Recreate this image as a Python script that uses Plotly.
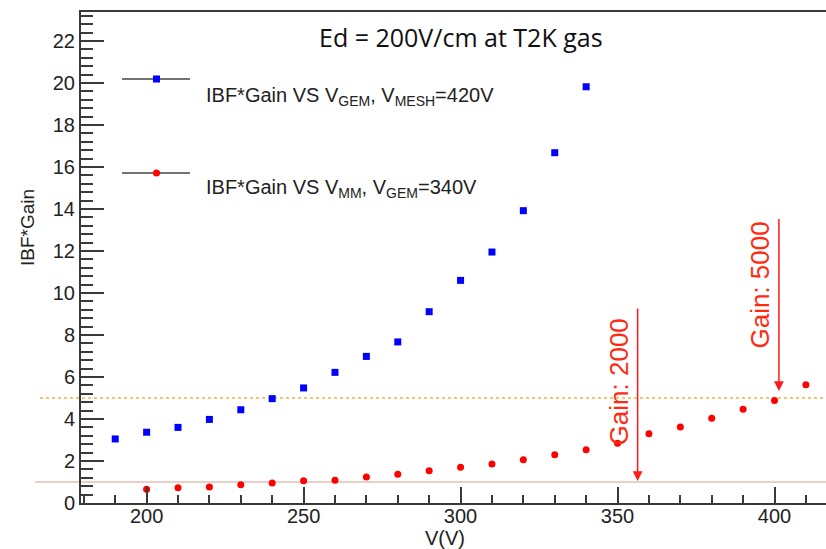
import plotly.graph_objects as go

# ---------------- data ----------------
v_gem = [190, 200, 210, 220, 230, 240, 250, 260, 270, 280, 290, 300, 310, 320, 330, 340]
ibf_gem = [3.05, 3.37, 3.60, 3.98, 4.44, 4.97, 5.48, 6.22, 6.98, 7.67, 9.11, 10.60, 11.95, 13.92, 16.68, 19.82]

v_mm = [200, 210, 220, 230, 240, 250, 260, 270, 280, 290, 300, 310, 320, 330, 340,
        350, 360, 370, 380, 390, 400, 410]
ibf_mm = [0.65, 0.73, 0.76, 0.87, 0.95, 1.06, 1.08, 1.24, 1.37, 1.54, 1.70, 1.86, 2.06, 2.30, 2.54,
          2.84, 3.30, 3.62, 4.03, 4.46, 4.88, 5.63]

ref_levels = [5.0, 1.0]             # dotted (gain 5000) / solid (gain 2000) reference levels
gain_labels = ["Gain: 2000", "Gain: 5000"]
gain_arrow_x = [356.4, 401.4]
gain_arrow_from = [9.33, 13.6]
gain_arrow_to = [1.05, 5.33]
gain_text_x = [350.4, 395.4]
gain_text_y = [5.78, 10.36]

title_text = "Ed = 200V/cm at T2K gas"
legend_texts = ["IBF*Gain VS V<sub>GEM</sub>, V<sub>MESH</sub>=420V",
                "IBF*Gain VS V<sub>MM</sub>, V<sub>GEM</sub>=340V"]
x_title = "V(V)"
y_title = "IBF*Gain"

# ---------------- geometry ----------------
W, H = 826, 549
L, R, T, B = 81, 0, 12, 46
PW, PH = W - L - R, H - T - B


def px(xp):
    return (xp - L) / PW


def py(yp):
    return (H - B - yp) / PH


AX = "#3a3a3a"
FONT = "Arial, Liberation Sans, sans-serif"

fig = go.Figure()
fig.add_trace(go.Scatter(x=v_gem, y=ibf_gem, mode="markers",
                         marker=dict(symbol="square", size=7, color="#0000FF"),
                         showlegend=False))
fig.add_trace(go.Scatter(x=v_mm, y=ibf_mm, mode="markers",
                         marker=dict(symbol="circle", size=7, color="#FF0000"),
                         showlegend=False))

shapes = []
# reference lines extending beyond the frame on the left
shapes.append(dict(type="line", xref="paper", yref="y", x0=px(40), x1=1.0,
                   y0=ref_levels[0], y1=ref_levels[0],
                   line=dict(color="#E6B84A", width=1.6, dash="dot"), layer="below"))
shapes.append(dict(type="line", xref="paper", yref="y", x0=px(35), x1=1.0,
                   y0=ref_levels[1], y1=ref_levels[1],
                   line=dict(color="#EBCFC6", width=2), layer="below"))

# legend symbols
leg_y = [79, 173]
for i, yy in enumerate(leg_y):
    shapes.append(dict(type="line", xref="paper", yref="paper", x0=px(122), x1=px(190),
                       y0=py(yy), y1=py(yy), line=dict(color="#444444", width=1.5)))
shapes.append(dict(type="rect", xref="paper", yref="paper",
                   x0=px(153), x1=px(160), y0=py(75.5), y1=py(82.5),
                   fillcolor="#0000FF", line=dict(width=0)))
shapes.append(dict(type="circle", xref="paper", yref="paper",
                   x0=px(153), x1=px(160), y0=py(169.5), y1=py(176.5),
                   fillcolor="#FF0000", line=dict(width=0)))

C = dict(xanchor="center", yanchor="middle", showarrow=False)
annotations = []
annotations.append(dict(text=title_text, xref="paper", yref="paper", x=px(461), y=py(37),
                        font=dict(family="Open Sans", size=25, color="#111111"), **C))
for txt, yy in zip(legend_texts, [97, 189]):
    annotations.append(dict(text=txt, xref="paper", yref="paper", x=px(204), y=py(yy),
                            xanchor="left", yanchor="middle", showarrow=False,
                            font=dict(family=FONT, size=20, color="#222222")))
annotations.append(dict(text=y_title, xref="paper", yref="paper", x=px(27), y=py(228),
                        textangle=-90, font=dict(family=FONT, size=19, color="#222222"), **C))
annotations.append(dict(text=x_title, xref="paper", yref="paper", x=px(445), y=py(538),
                        font=dict(family=FONT, size=20, color="#222222"), **C))
for lab, xa, y0, y1, tx, ty in zip(gain_labels, gain_arrow_x, gain_arrow_from, gain_arrow_to,
                                   gain_text_x, gain_text_y):
    annotations.append(dict(text="", x=xa, y=y1, ax=xa, ay=y0, xref="x", yref="y",
                            axref="x", ayref="y", showarrow=True, arrowhead=2,
                            arrowsize=1.3, arrowwidth=1.5, arrowcolor="#FF1A1A"))
    annotations.append(dict(text=lab, x=tx, y=ty, xref="x", yref="y", textangle=-90,
                            font=dict(family=FONT, size=26, color="#FF2A10"), **C))

x_min, x_max = 179.1, 416.4
y_min, y_max = 0.0, 23.38

fig.update_layout(
    width=W, height=H, margin=dict(l=L, r=R, t=T, b=B),
    paper_bgcolor="white", plot_bgcolor="white",
    shapes=shapes, annotations=annotations, showlegend=False,
    xaxis=dict(range=[x_min, x_max], showgrid=False, zeroline=False,
               showline=True, linecolor=AX, linewidth=2, mirror=True,
               ticks="inside", ticklen=16, tickwidth=1.5, tickcolor=AX,
               tick0=0, dtick=50, ticklabelstandoff=-6,
               minor=dict(ticks="inside", ticklen=8, tickwidth=1.5, tickcolor=AX,
                          dtick=10, tick0=0, showgrid=False),
               tickfont=dict(family=FONT, size=20, color="#222222")),
    yaxis=dict(range=[y_min, y_max], showgrid=False, zeroline=False,
               showline=True, linecolor=AX, linewidth=2, mirror=False,
               ticks="inside", ticklen=23, tickwidth=1.5, tickcolor=AX,
               tick0=0, dtick=2,
               minor=dict(ticks="inside", ticklen=12, tickwidth=1.5, tickcolor=AX,
                          dtick=0.4, tick0=0, showgrid=False),
               tickfont=dict(family=FONT, size=20, color="#222222")),
)

fig.write_html("out.html")
